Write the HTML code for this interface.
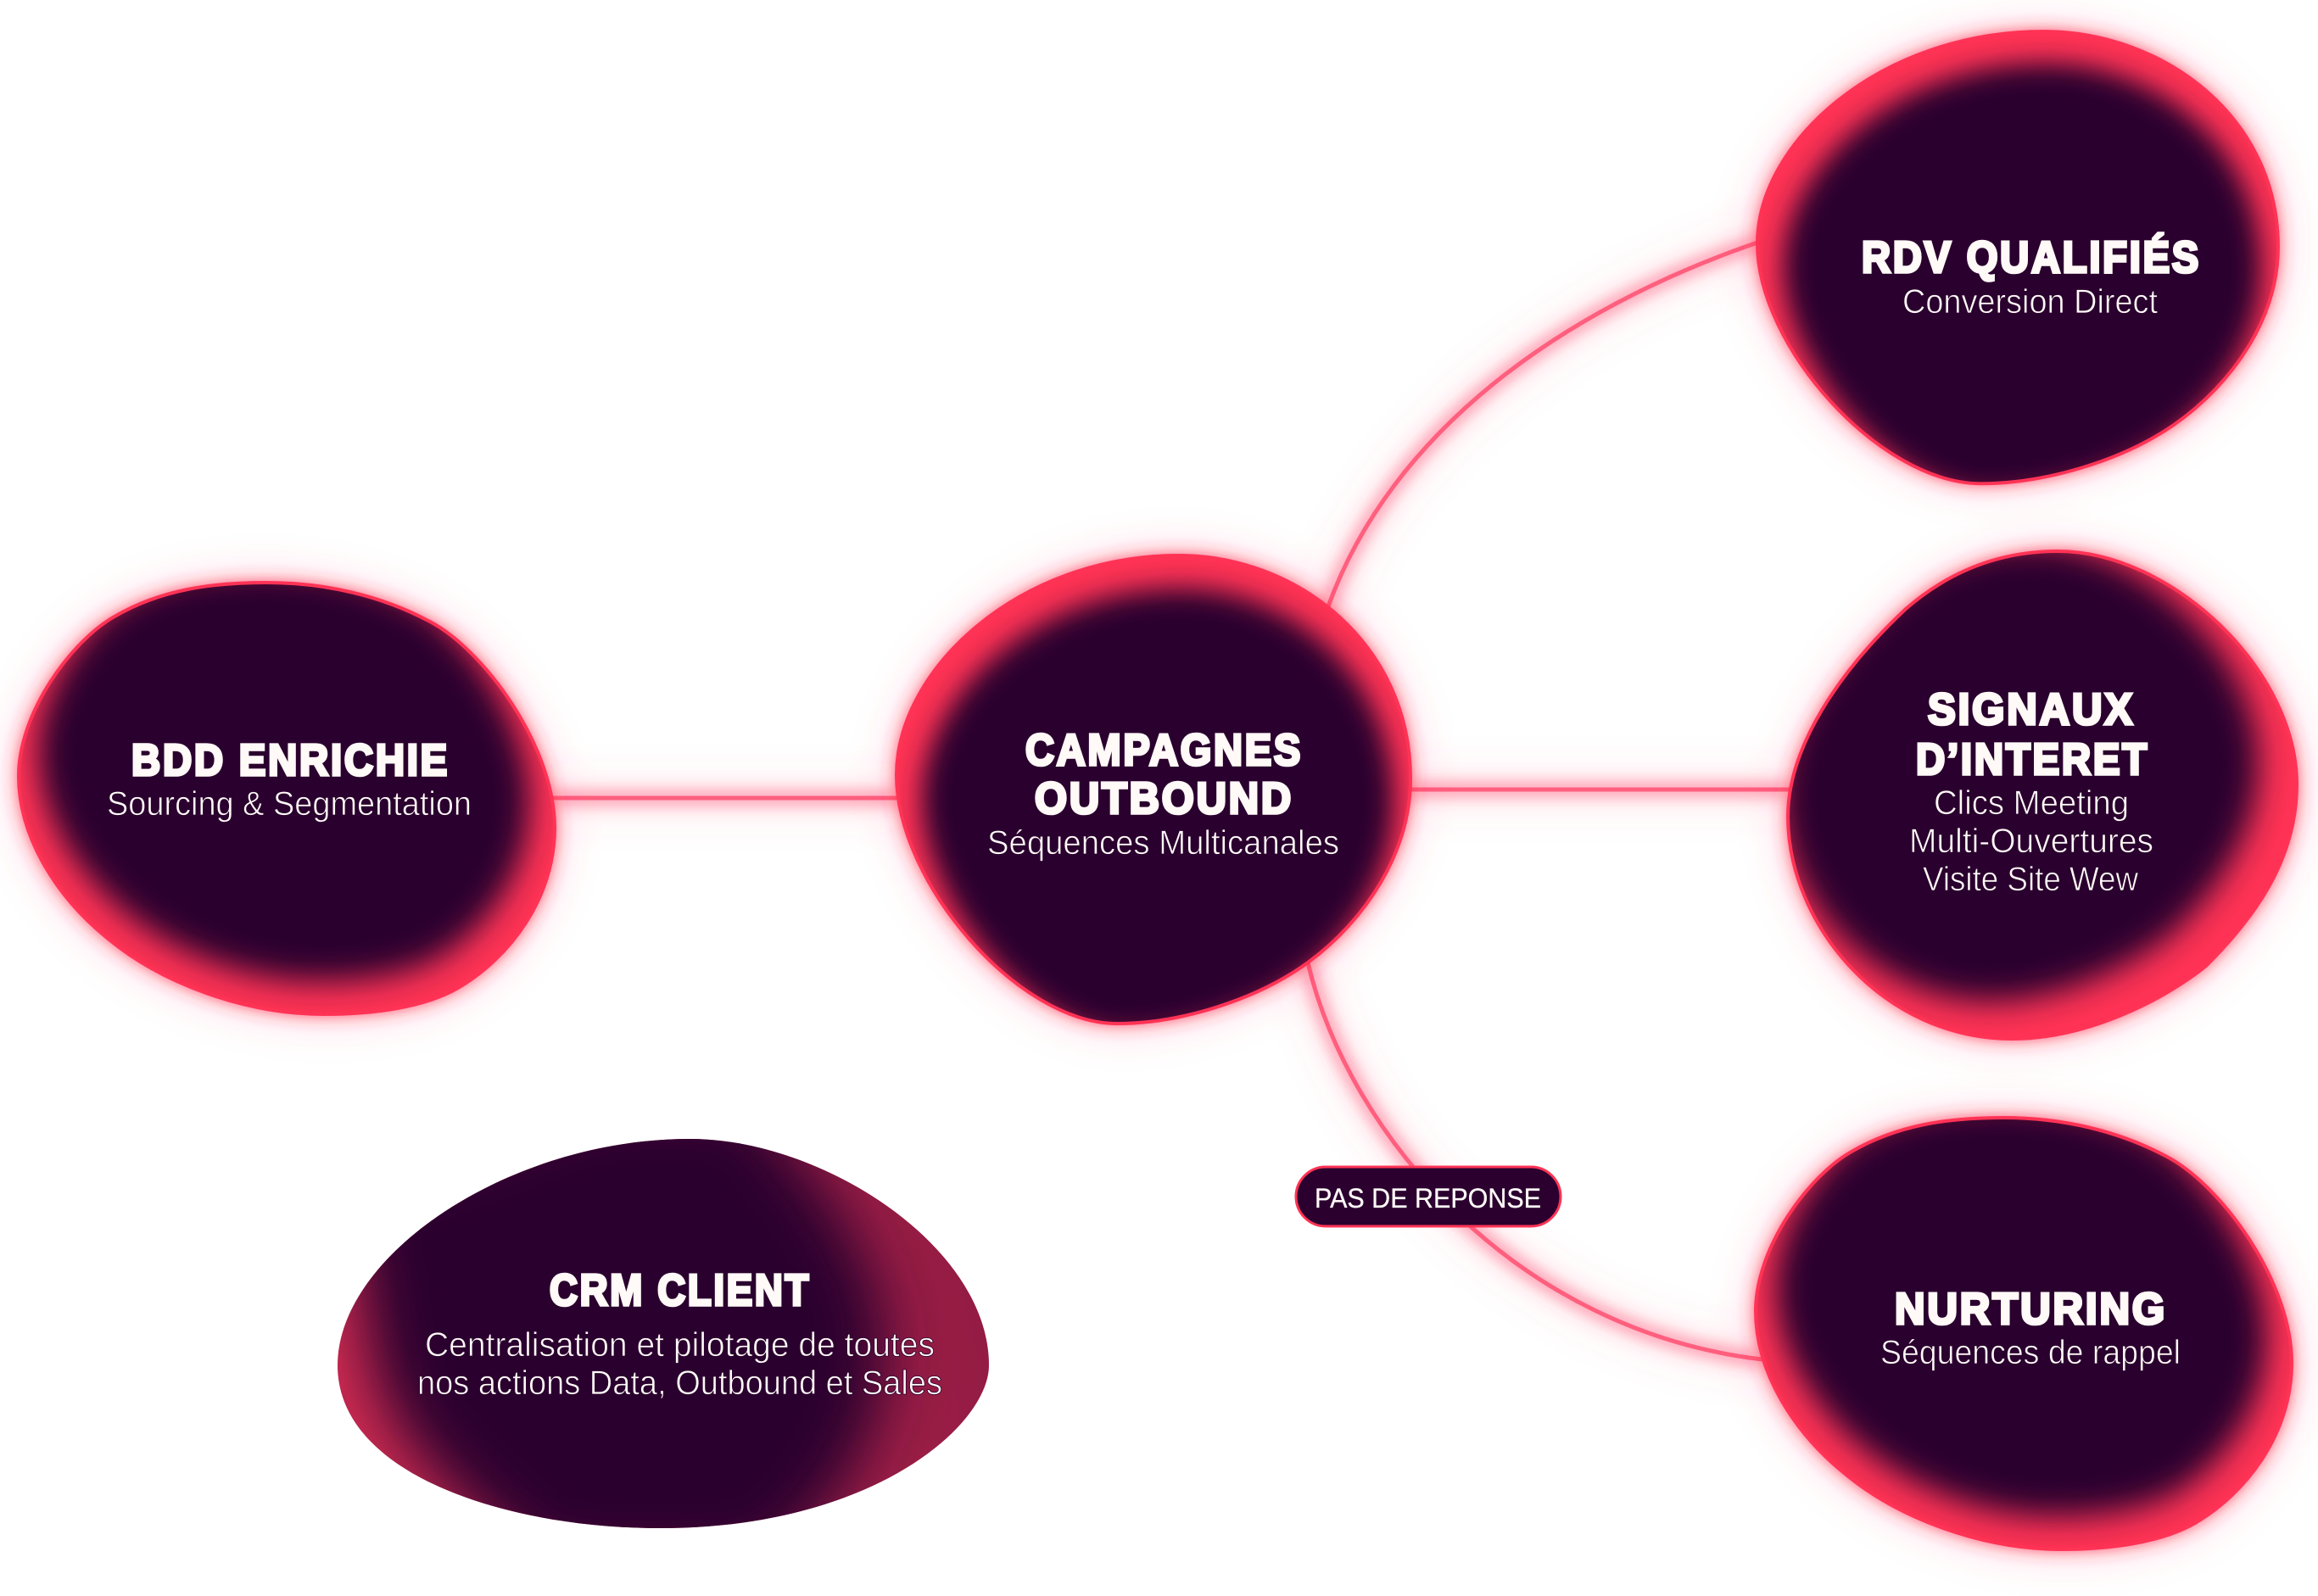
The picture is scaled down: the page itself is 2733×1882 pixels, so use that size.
<!DOCTYPE html>
<html lang="fr">
<head>
<meta charset="utf-8">
<title>Diagramme</title>
<style>
html,body{margin:0;padding:0;background:#fff;}
svg{display:block;}
.t{font-family:"Liberation Sans",sans-serif;font-weight:700;font-size:52px;letter-spacing:3px;fill:#fffaf7;stroke:#fffaf7;stroke-width:3.6px;stroke-linejoin:miter;}
.s{font-family:"Liberation Sans",sans-serif;font-weight:400;font-size:40px;fill:#fffaf7;stroke:#2b002f;stroke-width:.8px;}
.p{font-family:"Liberation Sans",sans-serif;font-weight:400;font-size:32px;fill:#fffaf7;stroke:#fffaf7;stroke-width:.3px;}
</style>
</head>
<body>
<svg xmlns="http://www.w3.org/2000/svg" width="2733" height="1882" viewBox="0 0 2733 1882">
<defs>
  <path id="pA" d="M1390,655 C1530,655 1663,760 1663,918 C1663,1005 1610,1085 1542,1135 C1480,1180 1390,1207 1317,1207 C1200,1207 1057,1040 1057,914 C1057,790 1200,655 1390,655Z"/>
  <path id="pB" d="M314,687 C385,687 450,703 505,732 C570,765 654,880 654,976 C654,1060 600,1130 540,1165 C500,1188 440,1196 382,1196 C290,1196 190,1160 125,1105 C70,1060 22,990 22,915 C22,840 85,755 135,727 C190,695 250,687 314,687Z"/>
  <path id="pC" d="M2426,650 C2560,650 2708,790 2708,925 C2708,1020 2650,1090 2601,1139 C2550,1180 2460,1225 2372,1225 C2220,1225 2108,1090 2108,963 C2108,880 2170,790 2247,718 C2300,672 2360,650 2426,650Z"/>
  <path id="pD" d="M814,1343 C970,1343 1166,1470 1166,1610 C1166,1680 1030,1802 778,1802 C600,1802 398,1740 398,1610 C398,1480 600,1343 814,1343Z"/>
  <clipPath id="cA"><use href="#pA"/></clipPath>
  <clipPath id="cB"><use href="#pB"/></clipPath>
  <clipPath id="cC"><use href="#pC"/></clipPath>
  <clipPath id="cD"><use href="#pD"/></clipPath>
  <linearGradient id="gD" gradientUnits="userSpaceOnUse" x1="398" y1="1720" x2="1166" y2="1560">
    <stop offset="0" stop-color="#cf2b51"/>
    <stop offset="1" stop-color="#931b44"/>
  </linearGradient>
  <filter id="glow" filterUnits="userSpaceOnUse" x="-400" y="-400" width="3600" height="2900">
    <feGaussianBlur in="SourceGraphic" stdDeviation="11" result="a"/>
    <feGaussianBlur in="SourceGraphic" stdDeviation="30" result="b"/>
    <feComponentTransfer in="a" result="a2"><feFuncA type="linear" slope=".95"/></feComponentTransfer>
    <feComponentTransfer in="b" result="b2"><feFuncA type="linear" slope=".2"/></feComponentTransfer>
    <feMerge><feMergeNode in="b2"/><feMergeNode in="a2"/><feMergeNode in="SourceGraphic"/></feMerge>
  </filter>
  <filter id="lglow" filterUnits="userSpaceOnUse" x="0" y="0" width="2733" height="1882">
    <feGaussianBlur in="SourceGraphic" stdDeviation="10" result="a"/>
    <feGaussianBlur in="SourceGraphic" stdDeviation="25" result="b"/>
    <feComponentTransfer in="a" result="a2"><feFuncA type="linear" slope="2"/></feComponentTransfer>
    <feComponentTransfer in="b" result="b2"><feFuncA type="linear" slope="1"/></feComponentTransfer>
    <feMerge><feMergeNode in="b2"/><feMergeNode in="a2"/><feMergeNode in="SourceGraphic"/></feMerge>
  </filter>
  <filter id="soft" filterUnits="userSpaceOnUse" x="-400" y="-400" width="3600" height="2900">
    <feGaussianBlur stdDeviation="17"/>
  </filter>
  <filter id="soft3" filterUnits="userSpaceOnUse" x="-400" y="-400" width="3600" height="2900">
    <feGaussianBlur stdDeviation="20"/>
  </filter>
  <filter id="soft2" filterUnits="userSpaceOnUse" x="-400" y="-400" width="3600" height="2900">
    <feGaussianBlur stdDeviation="35"/>
  </filter>
</defs>

<rect width="2733" height="1882" fill="#fff"/>

<!-- connectors -->
<g fill="none" stroke="#ff5f7e" stroke-width="5" filter="url(#lglow)">
  <path d="M1566,715 C1640,510 1840,365 2075,285"/>
  <path d="M1542,1135 C1590,1340 1790,1570 2078,1603"/>
  <path d="M650,941 L1060,941"/>
  <path d="M1660,931 L2110,931"/>
</g>

<!-- Campagnes outbound -->
<g>
  <use href="#pA" fill="#ff3355" filter="url(#glow)"/>
  <g clip-path="url(#cA)"><use href="#pA" fill="#2b002f" filter="url(#soft)" transform="translate(1365 958) scale(.917 .957) translate(-1360 -931)"/></g>
  <use href="#pA" fill="none" stroke="#ff3355" stroke-width="4"/>
</g>

<!-- RDV -->
<g transform="matrix(1.013 0 0 .966 1001.3 -595.7)">
  <use href="#pA" fill="#ff3355" filter="url(#glow)"/>
  <g clip-path="url(#cA)"><use href="#pA" fill="#2b002f" filter="url(#soft)" transform="translate(1365 958) scale(.917 .957) translate(-1360 -931)"/></g>
  <use href="#pA" fill="none" stroke="#ff3355" stroke-width="4"/>
</g>

<!-- BDD -->
<g>
  <use href="#pB" fill="#ff3355" filter="url(#glow)"/>
  <g clip-path="url(#cB)"><use href="#pB" fill="#2b002f" filter="url(#soft3)" transform="translate(335 911.5) scale(.915 .963) translate(-338 -941)"/></g>
  <use href="#pB" fill="none" stroke="#ff3355" stroke-width="4"/>
</g>

<!-- Nurturing -->
<g transform="translate(2048 631)">
  <use href="#pB" fill="#ff3355" filter="url(#glow)"/>
  <g clip-path="url(#cB)"><use href="#pB" fill="#2b002f" filter="url(#soft3)" transform="translate(335 911.5) scale(.915 .963) translate(-338 -941)"/></g>
  <use href="#pB" fill="none" stroke="#ff3355" stroke-width="4"/>
</g>

<!-- Signaux -->
<g>
  <use href="#pC" fill="#ff3355" filter="url(#glow)"/>
  <g clip-path="url(#cC)"><use href="#pC" fill="#2b002f" filter="url(#soft3)" transform="translate(2380.5 910) scale(.94 .94) translate(-2408 -937)"/></g>
  <use href="#pC" fill="none" stroke="#ff3355" stroke-width="4"/>
</g>

<!-- CRM -->
<g>
  <use href="#pD" fill="url(#gD)"/>
  <g clip-path="url(#cD)">
    <path d="M700,1290 L880,1290 C960,1380 1045,1480 1045,1590 C1045,1700 980,1790 900,1850 L640,1850 C570,1790 480,1720 450,1640 C425,1570 430,1480 400,1400 Z" fill="#2b002f" filter="url(#soft2)"/>
  </g>
</g>

<!-- pill -->
<rect x="1528" y="1376" width="312" height="70" rx="35" ry="35" fill="#2b002f" stroke="#ff3355" stroke-width="3"/>
<text class="p" x="1550" y="1424" textLength="267" lengthAdjust="spacingAndGlyphs">PAS DE REPONSE</text>

<!-- text -->
<text class="t" x="1209" y="902" textLength="327" lengthAdjust="spacingAndGlyphs">CAMPAGNES</text>
<text class="t" x="1220" y="959" textLength="305" lengthAdjust="spacingAndGlyphs">OUTBOUND</text>
<text class="s" x="1164" y="1007" textLength="415" lengthAdjust="spacingAndGlyphs">Séquences Multicanales</text>

<text class="t" x="2195" y="321" textLength="400" lengthAdjust="spacingAndGlyphs">RDV QUALIFIÉS</text>
<text class="s" x="2243" y="369" textLength="301" lengthAdjust="spacingAndGlyphs">Conversion Direct</text>

<text class="t" x="155" y="914" textLength="375" lengthAdjust="spacingAndGlyphs">BDD ENRICHIE</text>
<text class="s" x="126" y="961" textLength="430" lengthAdjust="spacingAndGlyphs">Sourcing &amp; Segmentation</text>

<text class="t" x="2273" y="854" textLength="244" lengthAdjust="spacingAndGlyphs">SIGNAUX</text>
<text class="t" x="2259" y="913" textLength="275" lengthAdjust="spacingAndGlyphs">D’INTERET</text>
<text class="s" x="2280" y="960" textLength="230" lengthAdjust="spacingAndGlyphs">Clics Meeting</text>
<text class="s" x="2251" y="1005" textLength="288" lengthAdjust="spacingAndGlyphs">Multi-Ouvertures</text>
<text class="s" x="2267" y="1050" textLength="254" lengthAdjust="spacingAndGlyphs">Visite Site Wew</text>

<text class="t" x="2234" y="1561" textLength="321" lengthAdjust="spacingAndGlyphs">NURTURING</text>
<text class="s" x="2217" y="1608" textLength="354" lengthAdjust="spacingAndGlyphs">Séquences de rappel</text>

<text class="t" x="648" y="1539" textLength="308" lengthAdjust="spacingAndGlyphs">CRM CLIENT</text>
<text class="s" x="501" y="1599" textLength="601" lengthAdjust="spacingAndGlyphs">Centralisation et pilotage de toutes</text>
<text class="s" x="492" y="1644" textLength="619" lengthAdjust="spacingAndGlyphs">nos actions Data, Outbound et Sales</text>
</svg>
</body>
</html>
